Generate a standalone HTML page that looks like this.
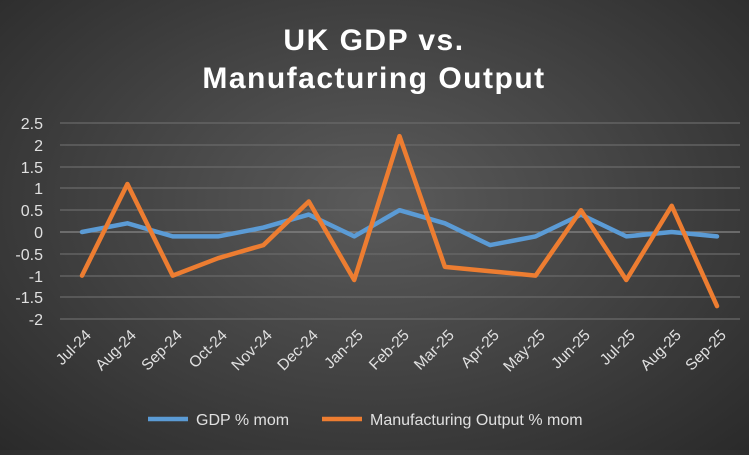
<!DOCTYPE html><html><head><style>body{margin:0;width:749px;height:450px;overflow:hidden;background:radial-gradient(ellipse at 50% 45%,#5b5b5b 0%,#454545 45%,#2a2a2a 100%);font-family:"Liberation Sans",sans-serif}</style></head><body>
<svg width="749" height="450" xmlns="http://www.w3.org/2000/svg" font-family="Liberation Sans, sans-serif">
<text x="374" y="50" fill="#fff" font-size="30" font-weight="bold" text-anchor="middle" letter-spacing="1.5">UK GDP vs.</text>
<text x="374" y="88" fill="#fff" font-size="30" font-weight="bold" text-anchor="middle" letter-spacing="1.5">Manufacturing Output</text>
<g stroke="#6a6a6a" stroke-width="1.2">
<line x1="60" x2="740" y1="123" y2="123"/><line x1="60" x2="740" y1="145" y2="145"/><line x1="60" x2="740" y1="167" y2="167"/><line x1="60" x2="740" y1="188" y2="188"/><line x1="60" x2="740" y1="210" y2="210"/><line x1="60" x2="740" y1="232" y2="232" stroke="#888"/><line x1="60" x2="740" y1="254" y2="254"/><line x1="60" x2="740" y1="276" y2="276"/><line x1="60" x2="740" y1="297" y2="297"/><line x1="60" x2="740" y1="319" y2="319"/>
</g>
<g fill="#e0e0e0" font-size="16" text-anchor="end">
<text x="43" y="129">2.5</text><text x="43" y="151">2</text><text x="43" y="173">1.5</text><text x="43" y="194">1</text><text x="43" y="216">0.5</text><text x="43" y="238">0</text><text x="43" y="260">-0.5</text><text x="43" y="282">-1</text><text x="43" y="303">-1.5</text><text x="43" y="325">-2</text>
</g>
<g fill="#e0e0e0" font-size="15.5" text-anchor="end">
<text transform="translate(92,336) rotate(-45)">Jul-24</text>
<text transform="translate(137,336) rotate(-45)">Aug-24</text>
<text transform="translate(183,336) rotate(-45)">Sep-24</text>
<text transform="translate(228,336) rotate(-45)">Oct-24</text>
<text transform="translate(273,336) rotate(-45)">Nov-24</text>
<text transform="translate(319,336) rotate(-45)">Dec-24</text>
<text transform="translate(364,336) rotate(-45)">Jan-25</text>
<text transform="translate(410,336) rotate(-45)">Feb-25</text>
<text transform="translate(455,336) rotate(-45)">Mar-25</text>
<text transform="translate(500,336) rotate(-45)">Apr-25</text>
<text transform="translate(546,336) rotate(-45)">May-25</text>
<text transform="translate(591,336) rotate(-45)">Jun-25</text>
<text transform="translate(636,336) rotate(-45)">Jul-25</text>
<text transform="translate(682,336) rotate(-45)">Aug-25</text>
<text transform="translate(727,336) rotate(-45)">Sep-25</text>
</g>
<polyline fill="none" stroke="#5b9bd5" stroke-width="4.5" stroke-linejoin="round" stroke-linecap="round" points="82,232 127.4,223.3 172.7,236.4 218.1,236.4 263.4,227.6 308.8,214.6 354.2,236.4 399.5,210.2 444.9,223.3 490.2,245.1 535.6,236.4 581,214.6 626.3,236.4 671.7,232 717,236.4"/>
<polyline fill="none" stroke="#ed7d31" stroke-width="4.5" stroke-linejoin="round" stroke-linecap="round" points="82,275.6 127.4,184 172.7,275.6 218.1,258.2 263.4,245.1 308.8,201.5 354.2,280 399.5,136.1 444.9,266.9 490.2,271.2 535.6,275.6 581,210.2 626.3,280 671.7,205.8 717,306.1"/>
<line x1="148" x2="188" y1="419" y2="419" stroke="#5b9bd5" stroke-width="4.5"/>
<text x="196" y="425" fill="#e0e0e0" font-size="16">GDP % mom</text>
<line x1="322" x2="362" y1="419" y2="419" stroke="#ed7d31" stroke-width="4.5"/>
<text x="370" y="425" fill="#e0e0e0" font-size="16">Manufacturing Output % mom</text>
</svg></body></html>
